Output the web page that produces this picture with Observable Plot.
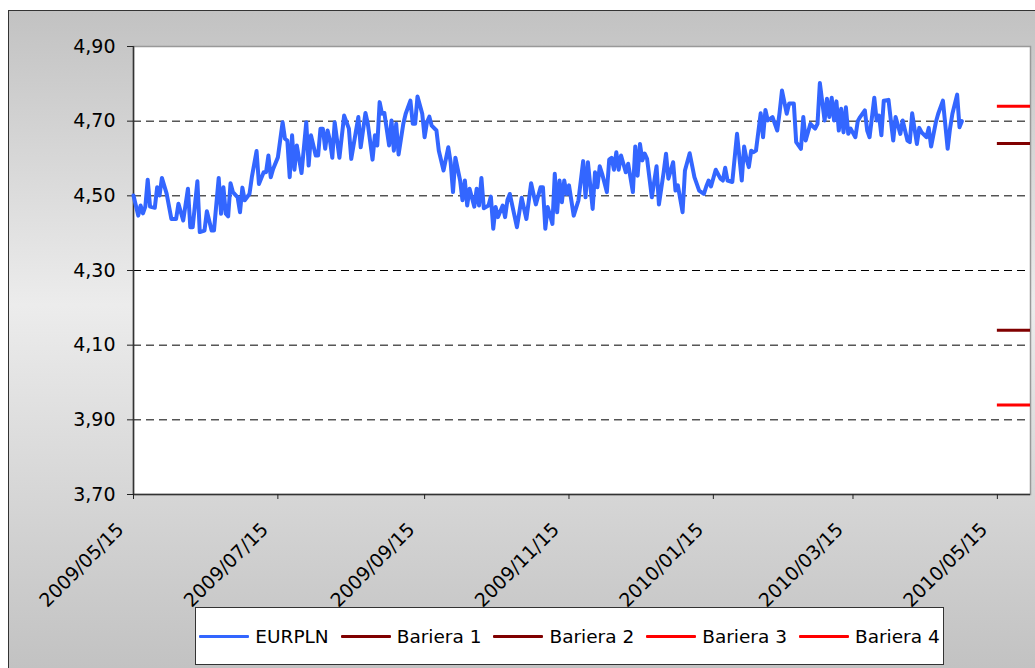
<!DOCTYPE html>
<html>
<head>
<meta charset="utf-8">
<script src="https://cdn.jsdelivr.net/npm/d3@7"></script>
<script src="https://cdn.jsdelivr.net/npm/@observablehq/plot@0.6"></script>
<style>
html, body { margin: 0; padding: 0; background: #fff; overflow: hidden; }
#page { position: relative; width: 1035px; height: 668px; overflow: hidden; font-family: "DejaVu Sans", Verdana, sans-serif; }
#bg { position: absolute; left: 8px; top: 10px; width: 1100px; height: 700px; border-left: 1px solid #333; border-top: 1px solid #333;
  background: linear-gradient(to bottom, #c2c2c2 0%, #ececec 42%, #c2c2c2 94%, #c0c0c0 100%); }
#plot { position: absolute; left: 0; top: 0; }
#legend { position: absolute; left: 195px; top: 607px; width: 747px; height: 56px; border: 1px solid #333; background: #fff;
  display: flex; align-items: center; justify-content: center; gap: 12px; font-size: 18.5px; color: #000; }
.item { display: flex; align-items: center; white-space: nowrap; }
.swatch { display: inline-block; width: 50px; height: 3px; margin-right: 6px; border-radius: 1px; }
</style>
</head>
<body>
<div id="page">
  <div id="bg"></div>
  <div id="plot"></div>
  <div id="legend"></div>
</div>
<script>
// ---- data ----
const eurplnDates = [
"2009-05-15","2009-05-17","2009-05-18","2009-05-19","2009-05-20","2009-05-21","2009-05-22","2009-05-24","2009-05-25","2009-05-26",
"2009-05-27","2009-05-29","2009-05-31","2009-06-02","2009-06-03","2009-06-05","2009-06-07","2009-06-08","2009-06-09","2009-06-11",
"2009-06-12","2009-06-14","2009-06-15","2009-06-17","2009-06-18","2009-06-20","2009-06-21","2009-06-22","2009-06-23","2009-06-24",
"2009-06-25","2009-06-26","2009-06-28","2009-06-29","2009-06-30","2009-07-01","2009-07-03","2009-07-04","2009-07-06","2009-07-07",
"2009-07-09","2009-07-10","2009-07-11","2009-07-12","2009-07-13","2009-07-15","2009-07-17","2009-07-18","2009-07-19","2009-07-20",
"2009-07-21","2009-07-22","2009-07-23","2009-07-25","2009-07-27","2009-07-28","2009-07-29","2009-07-31","2009-08-01","2009-08-02",
"2009-08-03","2009-08-04","2009-08-05","2009-08-06","2009-08-07","2009-08-08","2009-08-10","2009-08-12","2009-08-14","2009-08-15",
"2009-08-18","2009-08-19","2009-08-21","2009-08-22","2009-08-24","2009-08-25","2009-08-26","2009-08-27","2009-08-28","2009-08-29",
"2009-08-31","2009-09-01","2009-09-02","2009-09-03","2009-09-04","2009-09-06","2009-09-07","2009-09-09","2009-09-10","2009-09-11",
"2009-09-12","2009-09-14","2009-09-15","2009-09-16","2009-09-17","2009-09-18","2009-09-20","2009-09-21","2009-09-23","2009-09-25",
"2009-09-26","2009-09-27","2009-09-28","2009-09-30","2009-10-01","2009-10-02","2009-10-03","2009-10-04","2009-10-06","2009-10-07",
"2009-10-08","2009-10-09","2009-10-10","2009-10-12","2009-10-13","2009-10-14","2009-10-15","2009-10-16","2009-10-18","2009-10-19",
"2009-10-20","2009-10-21","2009-10-24","2009-10-26","2009-10-28","2009-10-30","2009-10-31","2009-11-01","2009-11-03","2009-11-04",
"2009-11-05","2009-11-06","2009-11-08","2009-11-09","2009-11-10","2009-11-11","2009-11-12","2009-11-13","2009-11-14","2009-11-15",
"2009-11-17","2009-11-19","2009-11-21","2009-11-22","2009-11-23","2009-11-25","2009-11-26","2009-11-27","2009-11-28","2009-11-29",
"2009-12-01","2009-12-02","2009-12-03","2009-12-04","2009-12-05","2009-12-06","2009-12-07","2009-12-09","2009-12-10","2009-12-12",
"2009-12-13","2009-12-14","2009-12-15","2009-12-16","2009-12-17","2009-12-18","2009-12-20","2009-12-22","2009-12-23","2009-12-25",
"2009-12-26","2009-12-27","2009-12-29","2009-12-30","2009-12-31","2010-01-02","2010-01-03","2010-01-05","2010-01-07","2010-01-09",
"2010-01-11","2010-01-12","2010-01-13","2010-01-14","2010-01-16","2010-01-18","2010-01-19","2010-01-20","2010-01-21","2010-01-23",
"2010-01-25","2010-01-27","2010-01-28","2010-01-29","2010-01-30","2010-01-31","2010-02-01","2010-02-02","2010-02-04","2010-02-05",
"2010-02-06","2010-02-07","2010-02-09","2010-02-11","2010-02-12","2010-02-13","2010-02-15","2010-02-16","2010-02-18","2010-02-19",
"2010-02-21","2010-02-22","2010-02-23","2010-02-25","2010-02-27","2010-02-28","2010-03-01","2010-03-03","2010-03-04","2010-03-05",
"2010-03-06","2010-03-07","2010-03-08","2010-03-09","2010-03-10","2010-03-11","2010-03-12","2010-03-13","2010-03-14","2010-03-16",
"2010-03-17","2010-03-18","2010-03-20","2010-03-21","2010-03-22","2010-03-24","2010-03-25","2010-03-26","2010-03-27","2010-03-28",
"2010-03-30","2010-03-31","2010-04-01","2010-04-02","2010-04-04","2010-04-05","2010-04-07","2010-04-08","2010-04-09","2010-04-11",
"2010-04-12","2010-04-13","2010-04-15","2010-04-16","2010-04-17","2010-04-19","2010-04-20","2010-04-22","2010-04-24","2010-04-25",
"2010-04-26","2010-04-28","2010-04-29","2010-04-30"
];
const eurplnValues = [
4.501,4.447,4.474,4.453,4.471,4.543,4.471,4.468,4.523,4.501,
4.548,4.506,4.438,4.438,4.479,4.434,4.519,4.416,4.416,4.539,
4.403,4.407,4.459,4.407,4.407,4.548,4.452,4.523,4.452,4.445,
4.534,4.510,4.496,4.456,4.522,4.488,4.505,4.550,4.620,4.532,
4.563,4.563,4.608,4.550,4.572,4.603,4.697,4.653,4.648,4.550,
4.662,4.570,4.635,4.561,4.697,4.581,4.662,4.608,4.608,4.680,
4.680,4.626,4.675,4.648,4.602,4.697,4.602,4.715,4.680,4.599,
4.711,4.630,4.722,4.693,4.597,4.662,4.635,4.751,4.720,4.722,
4.635,4.702,4.621,4.693,4.611,4.693,4.720,4.755,4.693,4.693,
4.766,4.720,4.657,4.697,4.712,4.688,4.675,4.621,4.568,4.630,
4.590,4.510,4.602,4.541,4.488,4.541,4.474,4.519,4.471,4.519,
4.474,4.548,4.467,4.474,4.498,4.412,4.470,4.443,4.474,4.443,
4.489,4.505,4.416,4.495,4.438,4.534,4.505,4.477,4.523,4.523,
4.412,4.470,4.425,4.559,4.456,4.541,4.483,4.541,4.505,4.528,
4.447,4.488,4.593,4.496,4.590,4.465,4.563,4.523,4.579,4.559,
4.510,4.597,4.602,4.570,4.617,4.570,4.608,4.563,4.586,4.510,
4.632,4.554,4.639,4.595,4.613,4.599,4.496,4.579,4.477,4.563,
4.613,4.546,4.590,4.514,4.528,4.456,4.568,4.614,4.550,4.514,
4.505,4.525,4.541,4.525,4.570,4.546,4.541,4.575,4.541,4.537,
4.666,4.541,4.632,4.599,4.577,4.621,4.617,4.621,4.721,4.657,
4.730,4.702,4.711,4.675,4.724,4.782,4.720,4.747,4.747,4.644,
4.626,4.711,4.648,4.693,4.680,4.693,4.802,4.702,4.760,4.711,
4.763,4.702,4.753,4.675,4.733,4.670,4.737,4.666,4.680,4.657,
4.700,4.711,4.729,4.675,4.657,4.763,4.702,4.715,4.662,4.755,
4.757,4.702,4.648,4.711,4.666,4.702,4.648,4.644,4.721,4.639,
4.682,4.670,4.657,4.682,4.632,4.697,4.720,4.755,4.626,4.680,
4.720,4.771,4.684,4.700
];
const barrierNames = ["Bariera 1", "Bariera 2", "Bariera 3", "Bariera 4"];
const barrierValues = [4.14, 4.64, 3.94, 4.74];
const barrierStart = "2010-05-15";
const barrierEnd = "2010-05-29";
const seriesNames = ["EURPLN", ...barrierNames];
const xDomain = ["2009-05-15", "2010-05-29"];
const xTickDates = ["2009-05-15","2009-07-15","2009-09-15","2009-11-15","2010-01-15","2010-03-15","2010-05-15"];
const yTicks = [3.70, 3.90, 4.10, 4.30, 4.50, 4.70, 4.90];
const gridValues = [3.90, 4.10, 4.30, 4.50, 4.70];

// ---- build ----
const seriesColors = ["#3366ff", "#800000", "#800000", "#ff0000", "#ff0000"];
const eurpln = eurplnDates.map((d, i) => ({date: new Date(d), value: eurplnValues[i], series: "EURPLN"}));
const barriers = barrierNames.map((n, i) => ({series: n, value: barrierValues[i], x1: new Date(barrierStart), x2: new Date(barrierEnd)}));
const fmtY = v => d3.format(".2f")(v).replace(".", ",");
const fmtX = d3.utcFormat("%Y/%m/%d");
const xTickObjs = xTickDates.map(d => new Date(d));

const chart = Plot.plot({
  width: 1035,
  height: 600,
  marginLeft: 133,
  marginRight: 5,
  marginTop: 46,
  marginBottom: 106,
  style: {background: "transparent", fontFamily: "'DejaVu Sans', Verdana, sans-serif", fontSize: "19px", color: "#222", overflow: "visible"},
  x: {type: "utc", domain: xDomain.map(d => new Date(d)), label: null},
  y: {domain: [yTicks[0], yTicks[yTicks.length - 1]], label: null},
  color: {domain: seriesNames, range: seriesColors},
  marks: [
    Plot.frame({fill: "#fff", stroke: "#999", strokeWidth: 1.5}),
    Plot.ruleY(gridValues, {stroke: "#000", strokeDasharray: "8,5", strokeWidth: 1}),
    Plot.ruleX([new Date(xDomain[0])], {stroke: "#333", strokeWidth: 1.5}),
    Plot.ruleY([yTicks[0]], {stroke: "#333", strokeWidth: 1.5}),
    Plot.axisY({ticks: yTicks, tickFormat: fmtY, tickSize: 6, tickPadding: 12, label: null, fill: "#000"}),
    Plot.axisX({ticks: xTickObjs, tickFormat: () => "", tickSize: 5, label: null}),
    Plot.axisX({ticks: xTickObjs, tickFormat: fmtX, tickRotate: -45, tickSize: 0, tickPadding: 32, dx: -13, label: null, fill: "#000", stroke: "none"}),
    Plot.ruleY(barriers, {y: "value", x1: "x1", x2: "x2", stroke: "series", strokeWidth: 3}),
    Plot.line(eurpln, {x: "date", y: "value", stroke: "series", strokeWidth: 4})
  ]
});
document.getElementById("plot").appendChild(chart);

// legend
const legend = document.getElementById("legend");
seriesNames.forEach((name, i) => {
  const item = document.createElement("div");
  item.className = "item";
  const sw = document.createElement("span");
  sw.className = "swatch";
  sw.style.background = seriesColors[i];
  const label = document.createElement("span");
  label.textContent = name;
  item.appendChild(sw);
  item.appendChild(label);
  legend.appendChild(item);
});
</script>
</body>
</html>
